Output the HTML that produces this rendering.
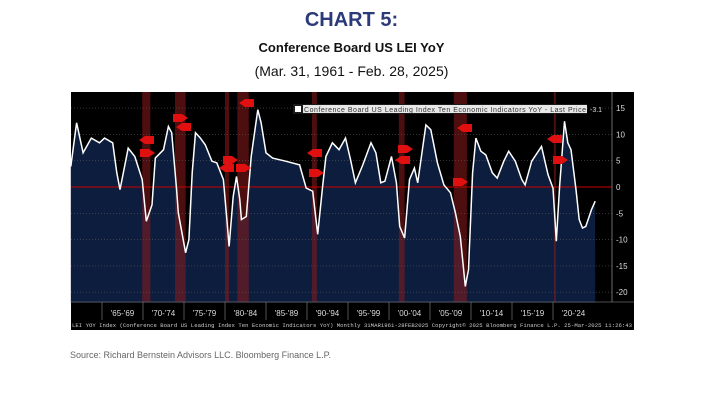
<!DOCTYPE html>
<html><head><meta charset="utf-8"><style>
body{margin:0;width:703px;height:400px;background:#fff;font-family:"Liberation Sans",sans-serif;overflow:hidden;position:relative}
.t{position:absolute;left:0;width:703px;text-align:center}
</style></head><body>
<div class="t" style="top:9px;font-size:20px;font-weight:bold;color:#2b3a78">CHART 5:</div>
<div class="t" style="top:40px;font-size:13px;font-weight:bold;color:#111">Conference Board US LEI YoY</div>
<div class="t" style="top:63px;font-size:14px;color:#111">(Mar. 31, 1961 - Feb. 28, 2025)</div>
<div style="position:absolute;left:70px;top:350px;font-size:9px;color:#666">Source: Richard Bernstein Advisors LLC. Bloomberg Finance L.P.</div>
<svg id="c" width="703" height="400" style="position:absolute;left:0;top:0"></svg>
<script>
const years=[1961.2,1961.9,1962.7,1963.7,1964.7,1965.3,1966.3,1966.8,1967.2,1968.2,1969.0,1969.9,1970.4,1971.1,1971.5,1972.5,1973.1,1973.5,1974.1,1974.3,1975.2,1975.6,1976.0,1976.4,1977.0,1977.6,1978.4,1979.0,1979.8,1980.2,1980.5,1981.0,1981.4,1981.8,1982.0,1982.6,1983.2,1984.0,1984.4,1985.0,1985.8,1987.4,1989.1,1989.9,1990.7,1991.3,1991.9,1992.3,1993.1,1993.9,1994.7,1995.3,1995.9,1996.8,1997.8,1998.4,1999.0,1999.5,2000.3,2000.9,2001.3,2001.9,2002.5,2003.1,2003.5,2004.5,2005.1,2005.9,2006.7,2007.5,2008.1,2008.7,2009.3,2009.7,2010.2,2010.6,2011.2,2011.8,2012.6,2013.2,2014.0,2014.6,2015.4,2016.2,2016.6,2017.4,2018.6,2019.4,2020.0,2020.4,2020.8,2021.4,2021.8,2022.2,2022.8,2023.2,2023.6,2024.0,2024.7,2025.15];
const values=[3.9,12.2,6.5,9.3,8.4,9.3,8.4,2.7,-0.5,7.4,5.8,1.4,-6.5,-3.4,5.5,7.1,11.5,10.3,-0.5,-4.9,-12.5,-10,2.7,10.3,9.3,8,4.9,4.6,1.4,-5.6,-11.3,-1.8,2,-2.4,-6.2,-5.6,5.8,14.7,12.2,6.5,5.5,4.9,4.2,-0.2,-0.8,-9,0.1,5.8,8.4,7.1,9.3,5.2,0.8,4.2,8.4,6.5,0.8,1.1,5.8,0.8,-7.5,-9.7,1.4,3.6,0.8,11.8,10.9,4.6,0.4,-1.1,-4.9,-9.4,-18.9,-15.7,2.7,9.3,6.8,6.1,2.7,1.7,4.9,6.8,4.9,1.4,0.4,4.9,7.7,2.3,-0.2,-10.3,0.1,12.5,8.4,7.1,-0.5,-6.2,-7.8,-7.5,-4.3,-2.7];
const recStart=[1969.9,1973.9,1980.0,1981.5,1990.6,2001.2,2007.9,2020.1];
const recEnd=[1970.9,1975.2,1980.5,1982.9,1991.2,2001.9,2009.5,2020.35];
const yTicks=[15,10,5,0,-5,-10,-15,-20];
const periodLabels=["'65-'69","'70-'74","'75-'79","'80-'84","'85-'89","'90-'94","'95-'99","'00-'04","'05-'09","'10-'14","'15-'19","'20-'24"];
const periodStarts=[1965,1970,1975,1980,1985,1990,1995,2000,2005,2010,2015,2020];
const flags=[[145,140,-1],[149,153,1],[182,118,1],[182,127,-1],[225,168,-1],[232,160,1],[245,103,-1],[245,168,1],[313,153,-1],[318,173,1],[407,149,1],[401,160,-1],[463,128,-1],[462,182,1],[553,139,-1],[562,160,1]];
const NS="http://www.w3.org/2000/svg";
const svg=document.getElementById('c');
const X=y=>102+(y-1965)*8.2;
const Y=v=>187-v*5.26;
function mk(t,a,p){const e=document.createElementNS(NS,t);for(const k in a)e.setAttribute(k,a[k]);(p||svg).appendChild(e);return e;}
let bg=mk('rect',{x:71,y:92,width:563,height:238,fill:'#000'});


// area
let d='M'+X(years[0])+','+Y(-22);
years.forEach((y,i)=>d+=' L'+X(y).toFixed(1)+','+Y(values[i]).toFixed(1));
d+=' L'+X(years[years.length-1])+','+Y(-22)+' Z';
let area=mk('path',{d:d,fill:'#0c1d3d'});


recStart.forEach((s,i)=>{
 let r=mk('rect',{x:X(s),y:92,width:Math.max(2,X(recEnd[i])-X(s)),height:210,fill:'#8b1a1a',opacity:0.55});
 
 
});
yTicks.forEach(v=>{
 let g=mk('line',{x1:71,x2:612,y1:Y(v),y2:Y(v),stroke:v===0?'#c00':'#555','stroke-width':v===0?1:0.6,'stroke-dasharray':v===0?'':'1,2'});
 
 
 let t=mk('text',{x:616,y:Y(v)+3,fill:'#ddd','font-size':8,'font-family':'Liberation Sans'});
 t.textContent=v;
 
 
});
mk('line',{x1:612,x2:612,y1:92,y2:302,stroke:'#888','stroke-width':0.8});
let ln=mk('polyline',{points:years.map((y,i)=>X(y).toFixed(1)+','+Y(values[i]).toFixed(1)).join(' '),fill:'none',stroke:'#fff','stroke-width':1.5});


flags.forEach(f=>{
 const [x,y,dir]=f;
 const p=dir<0?`${x-6},${y} ${x},${y-4} ${x+9},${y-4} ${x+9},${y+4} ${x},${y+4}`:`${x+6},${y} ${x},${y-4} ${x-9},${y-4} ${x-9},${y+4} ${x},${y+4}`;
 let fl=mk('polygon',{points:p,fill:'#e01010'});
 
 
});
mk('line',{x1:71,x2:634,y1:302,y2:302,stroke:'#666','stroke-width':0.8});
periodStarts.forEach((s,i)=>{
 mk('line',{x1:X(s),x2:X(s),y1:302,y2:320,stroke:'#888','stroke-width':0.6});
 let t=mk('text',{x:X(s+2.5),y:316,fill:'#ddd','font-size':8,'text-anchor':'middle','font-family':'Liberation Sans'});
 t.textContent=periodLabels[i];
 
 
});
let ft=mk('text',{x:72,y:327,fill:'#ccc','font-size':5.6,'font-family':'Liberation Mono',textLength:560});
ft.textContent="LEI YOY Index (Conference Board US Leading Index Ten Economic Indicators YoY) Monthly 31MAR1961-28FEB2025 Copyright© 2025 Bloomberg Finance L.P. 25-Mar-2025 11:26:43";


let lg=mk('rect',{x:293,y:104,width:294,height:10,fill:'#1a1a1a'});


mk('rect',{x:295,y:106,width:6,height:6,fill:'#fff'});
mk('rect',{x:303,y:105,width:284,height:8,fill:'#e8e8e8'});
let lt=mk('text',{x:304,y:112,fill:'#333','font-size':7,'font-family':'Liberation Sans',textLength:282});
lt.textContent="Conference Board US Leading Index Ten Economic Indicators YoY - Last Price";


let lv=mk('text',{x:590,y:112,fill:'#ddd','font-size':7,'font-family':'Liberation Sans'});
lv.textContent="-3.1";


</script>
</body></html>
